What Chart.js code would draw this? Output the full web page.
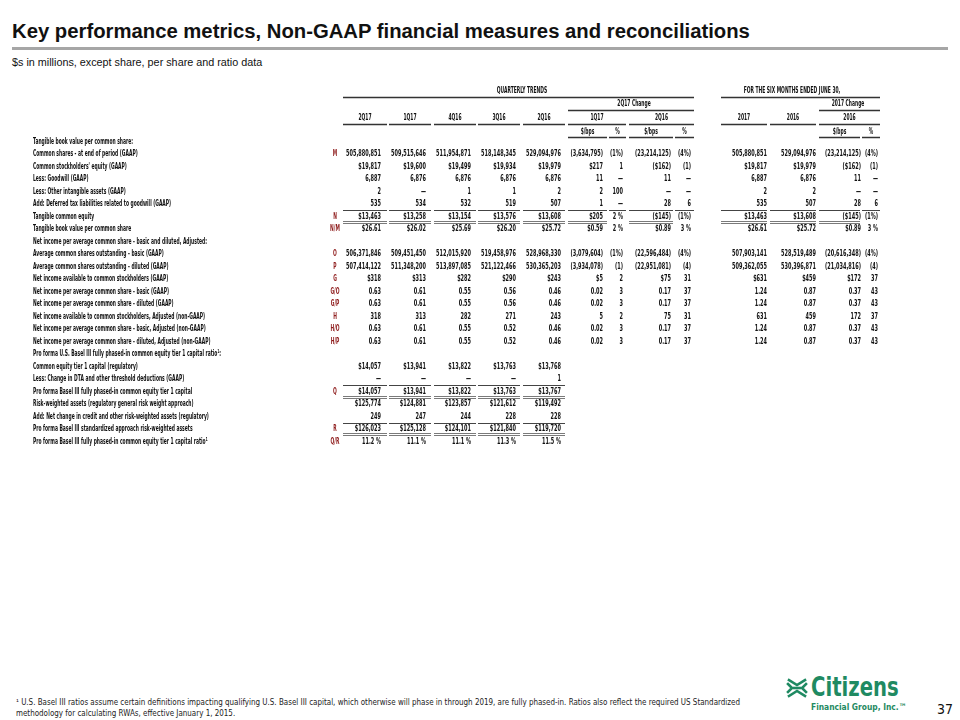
<!DOCTYPE html>
<html>
<head>
<meta charset="utf-8">
<title>Key performance metrics, Non-GAAP financial measures and reconciliations</title>
<script src="https://cdn.jsdelivr.net/npm/chart.js@4.4.1/dist/chart.umd.min.js"></script>
<style>
  html, body { margin: 0; padding: 0; background: #fff; }
  body { width: 960px; height: 720px; position: relative; overflow: hidden; font-family: "Liberation Sans", Arial, sans-serif; color: #111; }
  .title { position: absolute; left: 12px; top: 20px; font-size: 20.3px; font-weight: bold; white-space: nowrap; color: #111; }
  .rule { position: absolute; left: 12px; top: 47px; width: 936px; height: 3px; background: #a6a6a6; }
  .subtitle { position: absolute; left: 12px; top: 56px; font-size: 10.8px; white-space: nowrap; }
  #tableWrap { position: absolute; left: 0; top: 85px; width: 960px; height: 363px; }
  .footnote { position: absolute; left: 16px; top: 697px; font-family: "Liberation Sans Narrow", "DejaVu Sans Condensed", sans-serif; font-size: 8px; line-height: 11px; color: #222; white-space: nowrap; }
  .footnote span { display: block; transform-origin: left center; }
  .logo { position: absolute; left: 786px; top: 674px; color: #1f8a62; }
  .logo svg { position: absolute; left: 0; top: 3px; }
  .logo .name { position: absolute; left: 25px; top: -2px; font-family: "Liberation Sans Narrow", "DejaVu Sans Condensed", sans-serif; font-weight: bold; font-size: 26px; white-space: nowrap; transform: scaleX(0.84); transform-origin: left center; }
  .logo .sub { position: absolute; left: 25px; top: 28px; font-family: "Liberation Sans Narrow", "DejaVu Sans Condensed", sans-serif; font-weight: bold; font-size: 9px; white-space: nowrap; transform: scaleX(0.93); transform-origin: left center; }
  .page { position: absolute; left: 937px; top: 701px; font-family: "Liberation Sans Narrow", "DejaVu Sans Condensed", sans-serif; font-size: 14px; }
</style>
</head>
<body>
<div class="title">Key performance metrics, Non-GAAP financial measures and reconciliations</div>
<div class="rule"></div>
<div class="subtitle">$s in millions, except share, per share and ratio data</div>

<div id="tableWrap"><canvas id="metricsTable" width="960" height="363"></canvas></div>

<div class="footnote">
  <span id="fn1">¹ U.S. Basel III ratios assume certain definitions impacting qualifying U.S. Basel III capital, which otherwise will phase in through 2019, are fully phased-in. Ratios also reflect the required US Standardized</span>
  <span id="fn2">methodology for calculating RWAs, effective January 1, 2015.</span>
</div>

<div class="logo">
  <svg width="22" height="22" viewBox="0 0 22 22" fill="none" stroke="#1f8a62" stroke-width="2.6" stroke-linecap="square">
    <polyline points="3,3 11,8 19,3"/>
    <polyline points="3,19 11,14 19,19"/>
    <polyline points="2,7 6,11 2,15"/>
    <polyline points="20,7 16,11 20,15"/>
    <line x1="8" y1="11" x2="14" y2="11"/>
  </svg>
  <div class="name">Citizens</div>
  <div class="sub">Financial Group, Inc.™</div>
</div>
<div class="page">37</div>

<script>
const rowLabels = [
  "Tangible book value per common share:",
  "Common shares - at end of period (GAAP)",
  "Common stockholders' equity (GAAP)",
  "Less: Goodwill (GAAP)",
  "Less: Other intangible assets (GAAP)",
  "Add: Deferred tax liabilities related to goodwill (GAAP)",
  "Tangible common equity",
  "Tangible book value per common share",
  "Net income per average common share - basic and diluted, Adjusted:",
  "Average common shares outstanding - basic (GAAP)",
  "Average common shares outstanding - diluted (GAAP)",
  "Net income available to common stockholders (GAAP)",
  "Net income per average common share - basic (GAAP)",
  "Net income per average common share - diluted (GAAP)",
  "Net income available to common stockholders, Adjusted (non-GAAP)",
  "Net income per average common share - basic, Adjusted (non-GAAP)",
  "Net income per average common share - diluted, Adjusted (non-GAAP)",
  "Pro forma U.S. Basel III fully phased-in common equity tier 1 capital ratio¹:",
  "Common equity tier 1 capital (regulatory)",
  "Less: Change in DTA and other threshold deductions (GAAP)",
  "Pro forma Basel III fully phased-in common equity tier 1 capital",
  "Risk-weighted assets (regulatory general risk weight approach)",
  "Add: Net change in credit and other risk-weighted assets (regulatory)",
  "Pro forma Basel III standardized approach risk-weighted assets",
  "Pro forma Basel III fully phased-in common equity tier 1 capital ratio¹",
];

const rowRefs = ["", "M", "", "", "", "", "N", "N/M", "", "O", "P", "G", "G/O", "G/P", "H", "H/O", "H/P", "", "", "", "Q", "", "", "R", "Q/R"];

const quarterHeaders = ["2Q17", "1Q17", "4Q16", "3Q16", "2Q16"];
const changeHeaders = ["1Q17", "2Q16"];
const ytdHeaders = ["2017", "2016"];
const ytdChangeHeader = "2016";
const unitHeaders = ["$/bps", "%"];

const q2Q17 = ["", "505,880,851", "$19,817", "6,887", "2", "535", "$13,463", "$26.61", "", "506,371,846", "507,414,122", "$318", "0.63", "0.63", "318", "0.63", "0.63", "", "$14,057", "—", "$14,057", "$125,774", "249", "$126,023", "11.2 %"];
const q1Q17 = ["", "509,515,646", "$19,600", "6,876", "—", "534", "$13,258", "$26.02", "", "509,451,450", "511,348,200", "$313", "0.61", "0.61", "313", "0.61", "0.61", "", "$13,941", "—", "$13,941", "$124,881", "247", "$125,128", "11.1 %"];
const q4Q16 = ["", "511,954,871", "$19,499", "6,876", "1", "532", "$13,154", "$25.69", "", "512,015,920", "513,897,085", "$282", "0.55", "0.55", "282", "0.55", "0.55", "", "$13,822", "—", "$13,822", "$123,857", "244", "$124,101", "11.1 %"];
const q3Q16 = ["", "518,148,345", "$19,934", "6,876", "1", "519", "$13,576", "$26.20", "", "519,458,976", "521,122,466", "$290", "0.56", "0.56", "271", "0.52", "0.52", "", "$13,763", "—", "$13,763", "$121,612", "228", "$121,840", "11.3 %"];
const q2Q16 = ["", "529,094,976", "$19,979", "6,876", "2", "507", "$13,608", "$25.72", "", "528,968,330", "530,365,203", "$243", "0.46", "0.46", "243", "0.46", "0.46", "", "$13,768", "1", "$13,767", "$119,492", "228", "$119,720", "11.5 %"];

const chgVs1Q17 = ["", "(3,634,795)", "$217", "11", "2", "1", "$205", "$0.59", "", "(3,079,604)", "(3,934,078)", "$5", "0.02", "0.02", "5", "0.02", "0.02"];
const chgVs1Q17Pct = ["", "(1%)", "1", "—", "100", "—", "2 %", "2 %", "", "(1%)", "(1)", "2", "3", "3", "2", "3", "3"];
const chgVs2Q16 = ["", "(23,214,125)", "($162)", "11", "—", "28", "($145)", "$0.89", "", "(22,596,484)", "(22,951,081)", "$75", "0.17", "0.17", "75", "0.17", "0.17"];
const chgVs2Q16Pct = ["", "(4%)", "(1)", "—", "—", "6", "(1%)", "3 %", "", "(4%)", "(4)", "31", "37", "37", "31", "37", "37"];

const ytd2017 = ["", "505,880,851", "$19,817", "6,887", "2", "535", "$13,463", "$26.61", "", "507,903,141", "509,362,055", "$631", "1.24", "1.24", "631", "1.24", "1.24"];
const ytd2016 = ["", "529,094,976", "$19,979", "6,876", "2", "507", "$13,608", "$25.72", "", "528,519,489", "530,396,871", "$459", "0.87", "0.87", "459", "0.87", "0.87"];
const ytdChg = ["", "(23,214,125)", "($162)", "11", "—", "28", "($145)", "$0.89", "", "(20,616,348)", "(21,034,816)", "$172", "0.37", "0.37", "172", "0.37", "0.37"];
const ytdChgPct = ["", "(4%)", "(1)", "—", "—", "6", "(1%)", "3 %", "", "(4%)", "(4)", "37", "43", "43", "37", "43", "43"];

const valueColumns = [q2Q17, q1Q17, q4Q16, q3Q16, q2Q16, chgVs1Q17, chgVs1Q17Pct, chgVs2Q16, chgVs2Q16Pct, ytd2017, ytd2016, ytdChg, ytdChgPct];

// layout (page pixels on the x scale, rows on the y scale)
const colSpans = [[343, 387], [389, 431], [434, 476], [478, 520], [523, 565], [568, 607], [609, 626], [629, 673], [675, 694], [721, 767], [770, 816], [819, 860], [862, 880]];
const colRight = [381, 426, 471, 516, 561, 603, 623, 671, 691, 767, 816, 861, 878];
const headRows = [0, 1.04, 2.16, 3.2];
const BODY_START = 4;
const LABEL_X = 33;
const REF_X = 335;
const FONT = "bold 8.5px 'Liberation Sans Narrow', 'DejaVu Sans Condensed', 'Liberation Sans', sans-serif";

function squeezeFor(sample, target) {
  const c = document.createElement("canvas").getContext("2d");
  c.font = FONT;
  return Math.min(1, target / c.measureText(sample).width);
}

const labelSqueeze = squeezeFor("Net income per average common share - basic and diluted, Adjusted:", 174);
const numberSqueeze = squeezeFor("505,880,851", 35);

function center(a, b) {
  return (colSpans[a][0] + colSpans[b][1]) / 2;
}

function buildDatasets() {
  const labels = rowLabels.map((t, i) => ({ x: LABEL_X, y: BODY_START + i, text: t }));
  const refs = rowRefs.map((t, i) => ({ x: REF_X, y: BODY_START + i, text: t })).filter((d) => d.text);

  const values = [];
  valueColumns.forEach((col, c) => {
    col.forEach((t, r) => {
      if (t) values.push({ x: colRight[c], y: BODY_START + r, text: t });
    });
  });

  const headers = [
    { x: 522, y: headRows[0], text: "QUARTERLY TRENDS" },
    { x: 792, y: headRows[0], text: "FOR THE SIX MONTHS ENDED JUNE 30," },
    { x: 634, y: headRows[1], text: "2Q17 Change" },
    { x: 848, y: headRows[1], text: "2017 Change" },
    { x: center(5, 6), y: headRows[2], text: changeHeaders[0] },
    { x: center(7, 8), y: headRows[2], text: changeHeaders[1] },
    { x: center(9, 9), y: headRows[2], text: ytdHeaders[0] },
    { x: center(10, 10), y: headRows[2], text: ytdHeaders[1] },
    { x: center(11, 12), y: headRows[2], text: ytdChangeHeader },
  ];
  quarterHeaders.forEach((t, i) => headers.push({ x: center(i, i), y: headRows[2], text: t }));
  [5, 7, 11].forEach((c) => {
    headers.push({ x: center(c, c), y: headRows[3], text: unitHeaders[0] });
    headers.push({ x: center(c + 1, c + 1), y: headRows[3], text: unitHeaders[1] });
  });

  return [
    { label: "labels", data: labels, align: "left", color: "#111", squeeze: labelSqueeze },
    { label: "refs", data: refs, align: "center", color: "#8e1b1b", squeeze: labelSqueeze },
    { label: "values", data: values, align: "right", color: "#111", squeeze: numberSqueeze },
    { label: "headers", data: headers, align: "center", color: "#111", squeeze: labelSqueeze },
  ];
}

const allCols = colSpans.map((_, i) => i);
const quarterCols = [0, 1, 2, 3, 4];
const rules = [
  { at: headRows[0] + 0.48, spans: [[343, 694], [721, 880]], kind: "head" },
  { at: headRows[1] + 0.48, spans: [[568, 694], [819, 880]], kind: "head" },
  { at: headRows[2] + 0.48, spans: [...quarterCols.map((c) => colSpans[c]), [568, 626], [629, 694], colSpans[9], colSpans[10], [819, 880]], kind: "head" },
  { at: headRows[3] + 0.48, spans: [5, 6, 7, 8, 11, 12].map((c) => colSpans[c]), kind: "head" },
  { at: BODY_START + 5.5, spans: allCols.map((c) => colSpans[c]), kind: "thin" },
  { at: BODY_START + 6.5, spans: [0, 1, 2, 3, 4, 5, 7, 9, 10, 11].map((c) => colSpans[c]), kind: "double" },
  { at: BODY_START + 19.5, spans: quarterCols.map((c) => colSpans[c]), kind: "thin" },
  { at: BODY_START + 20.5, spans: quarterCols.map((c) => colSpans[c]), kind: "double" },
  { at: BODY_START + 22.5, spans: quarterCols.map((c) => colSpans[c]), kind: "thin" },
  { at: BODY_START + 23.5, spans: quarterCols.map((c) => colSpans[c]), kind: "double" },
];

const tableText = {
  id: "tableText",
  afterDatasetsDraw(chart) {
    const { ctx, scales: { x, y } } = chart;

    chart.data.datasets.forEach((ds, di) => {
      const meta = chart.getDatasetMeta(di);
      meta.data.forEach((pt, i) => {
        ctx.save();
        ctx.font = FONT;
        ctx.fillStyle = ds.color;
        ctx.textAlign = ds.align;
        ctx.textBaseline = "middle";
        ctx.translate(pt.x, pt.y);
        ctx.scale(ds.squeeze, 1);
        ctx.fillText(ds.data[i].text, 0, 0);
        ctx.restore();
      });
    });

    rules.forEach((rule) => {
      const py = Math.round(y.getPixelForValue(rule.at));
      rule.spans.forEach(([a, b]) => {
        const x0 = x.getPixelForValue(a);
        const x1 = x.getPixelForValue(b);
        ctx.save();
        if (rule.kind === "double") {
          ctx.strokeStyle = "#7a7a7a";
          ctx.lineWidth = 1;
          [py - 1.5, py + 0.5].forEach((yy) => {
            ctx.beginPath();
            ctx.moveTo(x0, yy);
            ctx.lineTo(x1, yy);
            ctx.stroke();
          });
        } else {
          ctx.strokeStyle = rule.kind === "head" ? "#333" : "#444";
          ctx.lineWidth = rule.kind === "head" ? 1.5 : 1;
          ctx.beginPath();
          ctx.moveTo(x0, py + 0.5);
          ctx.lineTo(x1, py + 0.5);
          ctx.stroke();
        }
        ctx.restore();
      });
    });
  },
};

function initTable() {
  const canvas = document.getElementById("metricsTable");
  new Chart(canvas.getContext("2d"), {
    type: "scatter",
    data: { datasets: buildDatasets() },
    options: {
      responsive: false,
      animation: false,
      events: [],
      elements: { point: { radius: 0, hoverRadius: 0 } },
      layout: { padding: 0 },
      scales: {
        x: { type: "linear", min: 0, max: 960, display: false },
        y: { type: "linear", min: -0.5, max: 28.5, reverse: true, display: false },
      },
      plugins: { legend: { display: false }, tooltip: { enabled: false } },
    },
    plugins: [tableText],
  });
}

function fitFootnote() {
  const fn1 = document.getElementById("fn1");
  const fn2 = document.getElementById("fn2");
  const w = fn1.getBoundingClientRect().width;
  const k = Math.min(1.2, 724 / w);
  fn1.style.transform = `scaleX(${k})`;
  fn2.style.transform = `scaleX(${k})`;
}

document.addEventListener("DOMContentLoaded", () => {
  initTable();
  fitFootnote();
});
</script>
</body>
</html>
